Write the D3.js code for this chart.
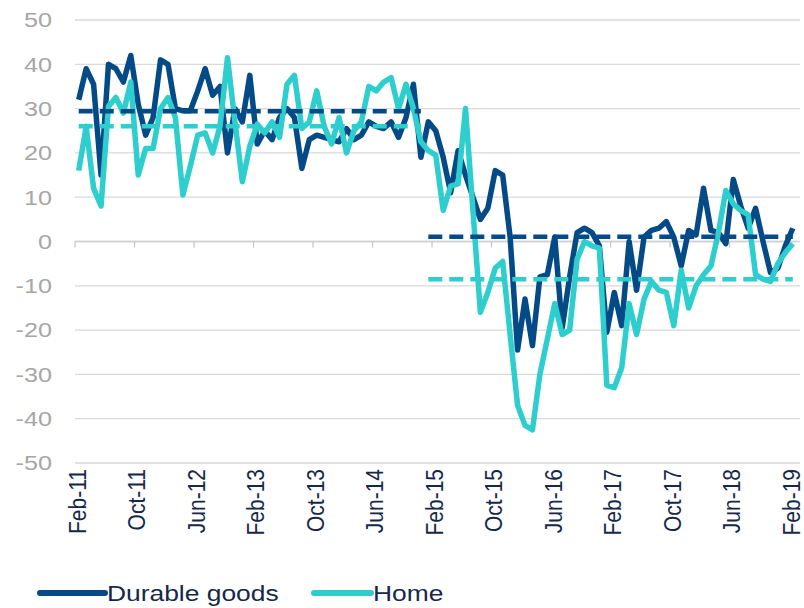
<!DOCTYPE html>
<html>
<head>
<meta charset="utf-8">
<script src="https://cdn.jsdelivr.net/npm/d3@7"></script>
<style>
  body { margin: 0; background: #fff; }
  text { font-family: "Liberation Sans", Arial, sans-serif; }
</style>
</head>
<body>
<svg id="chart" width="804" height="608"></svg>
<script>
var width = 804;
var height = 608;

// first month of the series and number of months (Feb-11 .. Feb-19)
var startMonth = new Date(2011, 1, 1);
var monthCount = 97;

var tickLabels = ["Feb-11", "Oct-11", "Jun-12", "Feb-13", "Oct-13", "Jun-14", "Feb-15",
    "Oct-15", "Jun-16", "Feb-17", "Oct-17", "Jun-18", "Feb-19"];
var yTicks = [50, 40, 30, 20, 10, 0, -10, -20, -30, -40, -50];

var durable = [32, 39, 35.5, 15, 40, 39, 36, 42, 31, 24,
    28, 41, 40, 30, 29.5, 29.5, 34, 39, 33, 35,
    20, 30, 27, 37.5, 22, 25, 23, 28, 30, 28,
    16.5, 23, 24, 23.5, 23, 22.5, 25.5, 23, 24, 27,
    26, 25.5, 27, 23.5, 28, 35.5, 19, 27, 25, 19,
    11, 20.5, 15, 10, 5, 7.5, 16, 15, 1, -24.5,
    -13, -23.5, -8, -7.5, 1, -19.5, -8, 2, 3, 2,
    -1, -20.5, -11.5, -19, 0, -11, 1, 2.5, 3, 4.5,
    1, -5.5, 2.5, 1.5, 12, 2.5, 2, -0.5, 14, 8,
    3, 7.5, 0, -7, -6, -1, 3];

var home = [16, 26, 12, 8, 30.5, 32.5, 29, 36, 15, 21,
    21, 30, 32.5, 28, 10.5, 17, 24, 24.5, 20, 26,
    41.5, 27, 13.5, 21.5, 26.5, 24.5, 27, 23.5, 35.5, 37.5,
    25.5, 27, 34, 26, 22, 28, 20, 25, 27, 35,
    34, 36, 37, 30, 35.5, 30, 22.5, 20.5, 19.5, 7,
    12.5, 13, 30, 7, -16, -11.5, -6, -4.5, -21, -37,
    -41.5, -42.5, -30, -22, -14, -21, -20, -4, 0, -1,
    -1.5, -32.5, -33, -28.5, -14, -21, -13, -9, -11, -11.5,
    -19, -6.5, -15, -10, -7.5, -5.5, 2, 11.5, 8.5, 7,
    6, -7.5, -8.5, -9, -5, -2.5, -0.5];

// period averages (dashed lines)
var durableAvg = [{ from: "Feb-11", to: "Dec-14", value: 29.4 }, { from: "Jan-15", to: "Feb-19", value: 1.1 }];
var homeAvg = [{ from: "Feb-11", to: "Dec-14", value: 26 }, { from: "Jan-15", to: "Feb-19", value: -8.5 }];

var darkBlue = "#044a87";
var turquoise = "#2ecece";

var fmt = d3.timeFormat("%b-%y");
var months = d3.timeMonth.range(startMonth, d3.timeMonth.offset(startMonth, monthCount)).map(fmt);

var svg = d3.select("#chart");

var x = d3.scaleBand()
    .domain(months)
    .range([75, 796.5]);

var y = d3.scaleLinear()
    .domain([-50, 50])
    .range([463, 20]);

function cx(m) { return x(m) + x.bandwidth() / 2; }

//gridlines
svg.append("g").attr("class", "grid")
    .selectAll("line")
    .data(yTicks)
    .enter()
    .append("line")
    .attr("x1", 75)
    .attr("x2", 800)
    .attr("y1", function (d) { return y(d); })
    .attr("y2", function (d) { return y(d); })
    .attr("stroke", "#d9d9d9")
    .attr("stroke-width", 1.3);

//y labels
svg.append("g").attr("class", "y-labels")
    .selectAll("text")
    .data(yTicks)
    .enter()
    .append("text")
    .attr("transform", function (d) { return "translate(52," + y(d) + ") scale(1.2,1)"; })
    .attr("dy", "0.35em")
    .attr("text-anchor", "end")
    .style("font-size", "21px")
    .style("fill", "#a6a6a6")
    .text(function (d) { return d; });

//axis at zero with tick marks between categories
var zero = y(0);
svg.append("line")
    .attr("x1", 75).attr("x2", 796.5)
    .attr("y1", zero).attr("y2", zero)
    .attr("stroke", "#d0d0d0")
    .attr("stroke-width", 1.3);

svg.append("g").attr("class", "ticks")
    .selectAll("line")
    .data(tickLabels)
    .enter()
    .append("line")
    .attr("x1", function (d) { return x(d); })
    .attr("x2", function (d) { return x(d); })
    .attr("y1", zero)
    .attr("y2", zero + 6)
    .attr("stroke", "#c8c8c8")
    .attr("stroke-width", 1.3);

//x labels
svg.append("g").attr("class", "x-labels")
    .selectAll("text")
    .data(tickLabels)
    .enter()
    .append("text")
    .attr("transform", function (d) { return "translate(" + cx(d) + ",469) scale(1.1,1) rotate(-90)"; })
    .attr("dy", "0.3em")
    .attr("text-anchor", "end")
    .style("font-size", "21px")
    .style("fill", "#16284a")
    .text(function (d) { return d; });

//series lines
var line = d3.line()
    .x(function (d, i) { return cx(months[i]); })
    .y(function (d) { return y(d); });

svg.append("path")
    .datum(durable)
    .attr("d", line)
    .attr("fill", "none")
    .attr("stroke", darkBlue)
    .attr("stroke-width", 5.5)
    .attr("stroke-linejoin", "round");

svg.append("path")
    .datum(home)
    .attr("d", line)
    .attr("fill", "none")
    .attr("stroke", turquoise)
    .attr("stroke-width", 5.5)
    .attr("stroke-linejoin", "round");

//dashed average lines
function drawAvg(data, color) {
    svg.append("g")
        .selectAll("line")
        .data(data)
        .enter()
        .append("line")
        .attr("x1", function (d) { return cx(d.from); })
        .attr("x2", function (d) { return cx(d.to); })
        .attr("y1", function (d) { return y(d.value); })
        .attr("y2", function (d) { return y(d.value); })
        .attr("stroke", color)
        .attr("stroke-width", 4.5)
        .attr("stroke-dasharray", "14,7");
}
drawAvg(durableAvg, darkBlue);
drawAvg(homeAvg, turquoise);

//legend
var legendItems = [
    { name: "Durable goods", color: darkBlue, x1: 40, x2: 105 },
    { name: "Home", color: turquoise, x1: 314, x2: 371 }
];
var legend = svg.append("g").attr("class", "legend")
    .selectAll("g")
    .data(legendItems)
    .enter()
    .append("g");

legend.append("line")
    .attr("x1", function (d) { return d.x1; })
    .attr("x2", function (d) { return d.x2; })
    .attr("y1", 593)
    .attr("y2", 593)
    .attr("stroke", function (d) { return d.color; })
    .attr("stroke-width", 6)
    .attr("stroke-linecap", "round");

legend.append("text")
    .attr("transform", function (d) { return "translate(" + (d.x2 + 2) + ",593) scale(1.2,1)"; })
    .attr("dy", "0.35em")
    .style("font-size", "22px")
    .style("fill", "#16284a")
    .text(function (d) { return d.name; });
</script>
</body>
</html>
